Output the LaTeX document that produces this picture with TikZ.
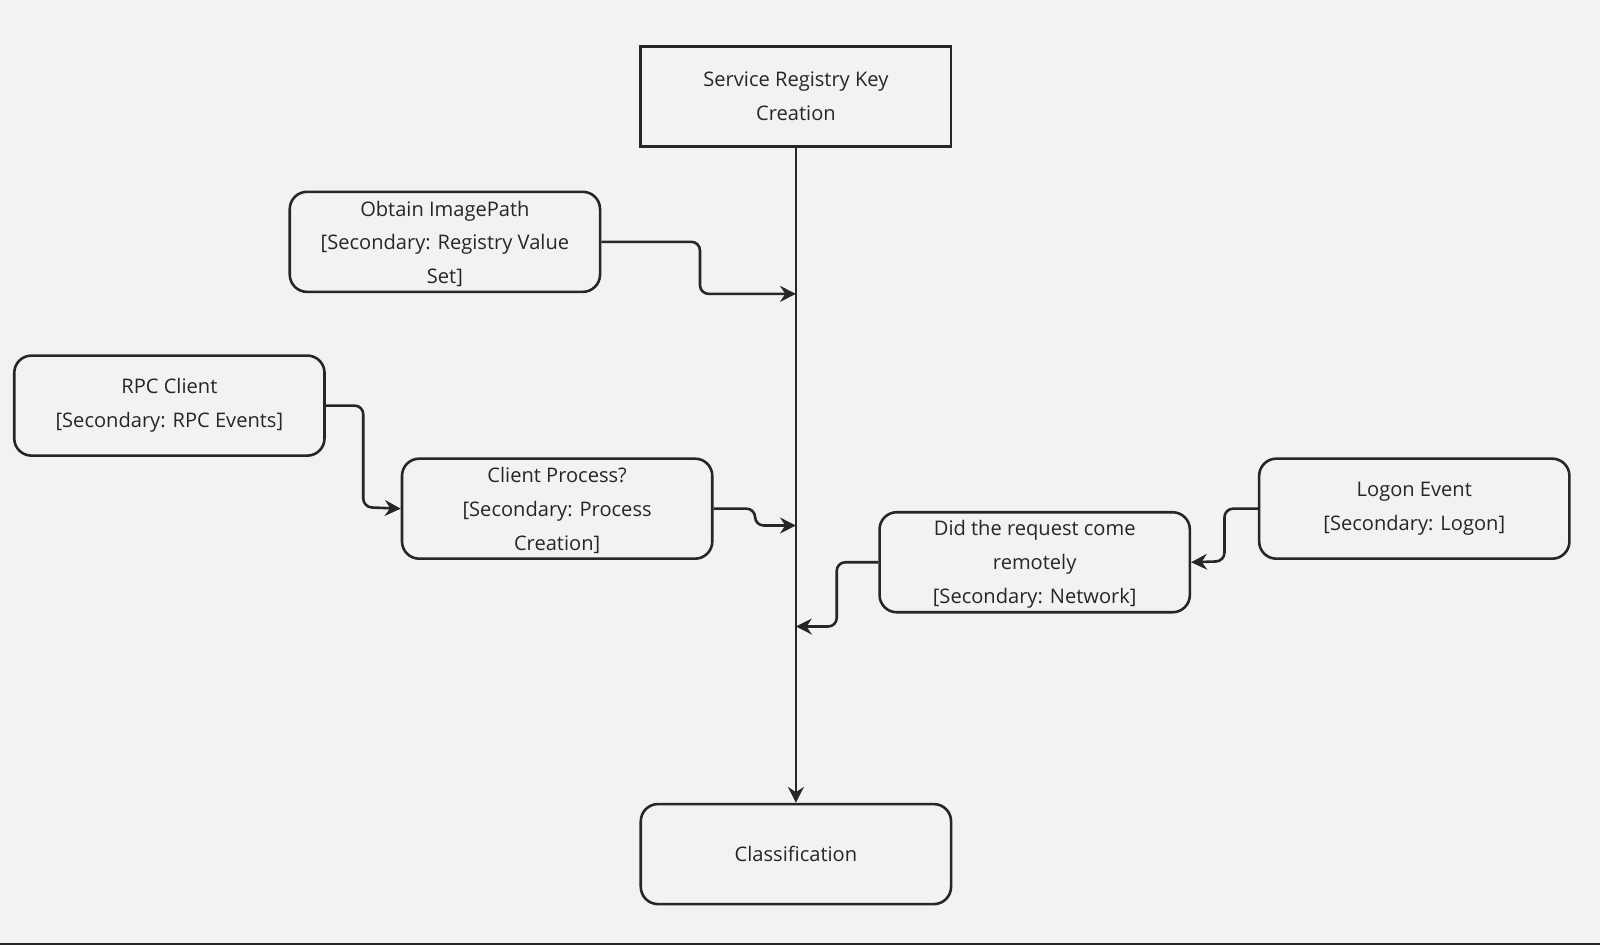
\documentclass[tikz,border=0pt]{standalone}
\usepackage{fontspec}
\setmainfont{Open Sans}
\usetikzlibrary{arrows.meta}
\definecolor{bg}{HTML}{F2F2F2}
\definecolor{ink}{HTML}{262626}
\tikzset{
  box/.style={draw=ink, line width=1.8pt, rounded corners=12pt, minimum width=7.6cm,
    minimum height=2.45cm, align=center, text=ink, inner sep=0pt},
  sharpbox/.style={box, rounded corners=0pt},
  link/.style={draw=ink, line width=1.8pt, rounded corners=6pt, -{Stealth[length=11pt,width=11pt]}}
}
\begin{document}
\begin{tikzpicture}[x=0.025cm, y=-0.025cm, font=\fontsize{14pt}{23.5pt}\selectfont]
\fill[bg] (0,0) rectangle (1568,926);
\useasboundingbox (0,0) rectangle (1568,926);
\draw[ink, line width=1.5pt] (0,925) -- (1568,925);

\node[sharpbox] (reg) at (780,94.5) {Service Registry Key\\Creation};
\node[box] (img) at (436,237) {\raisebox{0pt}[0pt][0pt]{\parbox{7.4cm}{\centering\vspace*{0.35cm}Obtain ImagePath\\{}[Secondary: Registry Value\\Set]}}};
\node[box] (rpc) at (166,397.5) {RPC Client\\{}[Secondary: RPC Events]};
\node[box] (proc) at (546,498.5) {\raisebox{0pt}[0pt][0pt]{\parbox{7.4cm}{\centering\vspace*{0.35cm}Client Process?\\{}[Secondary: Process\\Creation]}}};
\node[box] (remote) at (1014,551) {\raisebox{0pt}[0pt][0pt]{\parbox{7.4cm}{\centering\vspace*{0.35cm}Did the request come\\remotely\\{}[Secondary: Network]}}};
\node[box] (logon) at (1386,498.5) {Logon Event\\{}[Secondary: Logon]};
\node[box] (cls) at (780,837) {Classification};

\coordinate (t1) at (780,288);
\coordinate (t2) at (780,515);
\coordinate (t3) at (780,614);

\begin{scope}
\draw[link] (reg) -- (cls);
\draw[link] (img.east) -| (686,288) -- (t1);
\draw[link] (rpc.east) -| (356,497) -- (proc.west);
\draw[link] (proc.east) -| (740,515) -- (t2);
\draw[link] (logon.west) -| (1200,550) -- (remote.east);
\draw[link] (remote.west) -| (820,614) -- (t3);
\end{scope}
\end{tikzpicture}
\end{document}
